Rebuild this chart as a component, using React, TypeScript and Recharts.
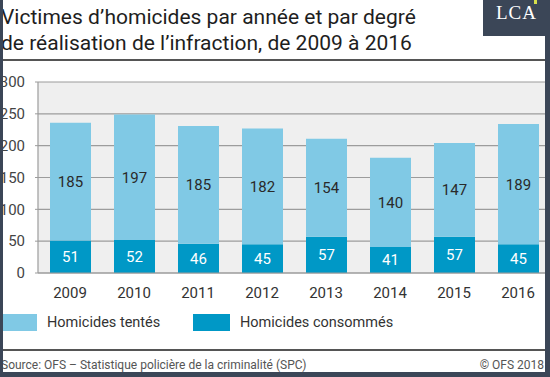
import { BarChart, Bar, XAxis, YAxis, CartesianGrid, LabelList } from 'recharts';

const years = ['2009', '2010', '2011', '2012', '2013', '2014', '2015', '2016'];
const consommes = [51, 52, 46, 45, 57, 41, 57, 45];
const tentes = [185, 197, 185, 182, 154, 140, 147, 189];
const yTicks = [0, 50, 100, 150, 200, 250, 300];

const LIGHT = '#80c9e5';
const DARK = '#0098c6';
const FRAME = '#3b4657';
const FONT = 'Roboto, "Noto Sans", sans-serif';

const data = years.map((year, i) => ({
  year,
  consommes: consommes[i],
  tentes: tentes[i],
}));

export default function App() {
  return (
    <div
      style={{
        position: 'absolute',
        left: 0,
        top: 0,
        width: 550,
        height: 377,
        background: '#ffffff',
        overflow: 'hidden',
        fontFamily: FONT,
      }}
    >
      {/* Title */}
      <div
        style={{
          position: 'absolute',
          left: 1,
          top: 4,
          fontSize: 21,
          lineHeight: '26px',
          color: '#1e1e1e',
        }}
      >
        Victimes d’homicides par année et par degré
        <br />
        de réalisation de l’infraction, de 2009 à 2016
      </div>
      <div style={{ position: 'absolute', left: 0, top: 59, width: 550, height: 1.5, background: '#555' }} />

      <div style={{ position: 'absolute', left: 0, top: 0 }}>
        <BarChart
          width={550}
          height={320}
          data={data}
          margin={{ top: 82, right: 0, left: 0, bottom: 0 }}
        >
          <CartesianGrid vertical={false} fill="#efefef" stroke="#9c9c9c" strokeWidth={1.2} />
          <XAxis
            dataKey="year"
            height={47}
            tickLine={false}
            axisLine={{ stroke: '#9c9c9c', strokeWidth: 1.2 }}
            tick={{ fill: '#333', fontSize: 15, fontFamily: FONT }}
            tickMargin={8}
          />
          <YAxis
            width={38}
            domain={[0, 300]}
            ticks={yTicks}
            interval={0}
            tickSize={3}
            tickMargin={10}
            tickLine={{ stroke: '#9c9c9c' }}
            axisLine={{ stroke: '#9c9c9c', strokeWidth: 1.2 }}
            tick={{ fill: '#444', fontSize: 15, fontFamily: FONT }}
          />
          <Bar dataKey="consommes" stackId="a" fill={DARK} barSize={41} isAnimationActive={false}>
            <LabelList dataKey="consommes" position="center" fill="#ffffff" fontSize={15} fontFamily={FONT} />
          </Bar>
          <Bar dataKey="tentes" stackId="a" fill={LIGHT} barSize={41} isAnimationActive={false}>
            <LabelList dataKey="tentes" position="center" fill="#2a2a2a" fontSize={15} fontFamily={FONT} />
          </Bar>
        </BarChart>
      </div>

      {/* Legend */}
      <div style={{ position: 'absolute', left: 3, top: 314, width: 34, height: 17, background: LIGHT }} />
      <div style={{ position: 'absolute', left: 47, top: 313, fontSize: 14.5, lineHeight: '19px', color: '#333' }}>
        Homicides tentés
      </div>
      <div style={{ position: 'absolute', left: 193, top: 314, width: 37, height: 17, background: DARK }} />
      <div style={{ position: 'absolute', left: 240, top: 313, fontSize: 14.5, lineHeight: '19px', color: '#333' }}>
        Homicides consommés
      </div>

      {/* Footer */}
      <div style={{ position: 'absolute', left: 0, top: 349, width: 550, height: 1.5, background: '#555' }} />
      <div style={{ position: 'absolute', left: 1, top: 358, fontSize: 12, lineHeight: '15px', color: '#555' }}>
        Source: OFS – Statistique policière de la criminalité (SPC)
      </div>
      <div style={{ position: 'absolute', right: 6, top: 358, fontSize: 12, lineHeight: '15px', color: '#555' }}>
        © OFS 2018
      </div>

      {/* Frame */}
      <div style={{ position: 'absolute', left: 0, top: 0, width: 3, height: 377, background: FRAME }} />
      <div style={{ position: 'absolute', right: 0, top: 0, width: 5, height: 377, background: FRAME }} />
      <div style={{ position: 'absolute', left: 0, bottom: 0, width: 550, height: 5, background: FRAME }} />

      {/* Logo */}
      <div
        style={{
          position: 'absolute',
          left: 483,
          top: 0,
          width: 67,
          height: 36,
          background: FRAME,
          color: '#ffffff',
          fontFamily: '"Liberation Serif", serif',
          fontSize: 19,
          textAlign: 'center',
          lineHeight: '26px',
          letterSpacing: 1,
        }}
      >
        LCA
      </div>
      <div style={{ position: 'absolute', left: 534, top: 0, width: 3, height: 4, background: '#d8e04a' }} />
    </div>
  );
}
